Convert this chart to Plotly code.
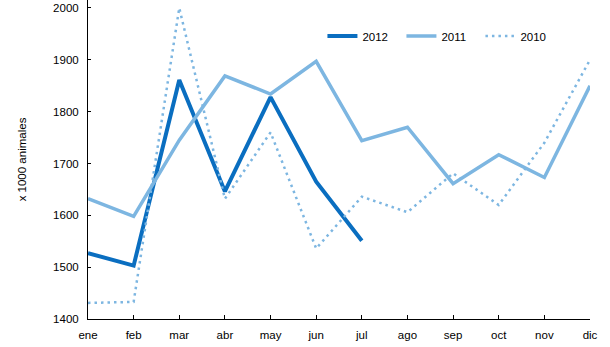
import plotly.graph_objects as go

months = ["ene", "feb", "mar", "abr", "may", "jun", "jul", "ago", "sep", "oct", "nov", "dic"]
y2012 = [1527, 1503, 1861, 1646, 1828, 1665, 1551]
y2011 = [1632, 1598, 1745, 1869, 1834, 1897, 1744, 1770, 1661, 1717, 1673, 1850]
y2010 = [1431, 1433, 2000, 1632, 1760, 1536, 1636, 1606, 1681, 1620, 1740, 1900]
yticks = [1400, 1500, 1600, 1700, 1800, 1900, 2000]

dark = "#0A6EC0"
light = "#7DB6E1"

fig = go.Figure()
fig.add_trace(go.Scatter(x=months[:len(y2012)], y=y2012, name="2012", mode="lines",
                         line=dict(color=dark, width=4)))
fig.add_trace(go.Scatter(x=months, y=y2011, name="2011", mode="lines",
                         line=dict(color=light, width=3.5)))
fig.add_trace(go.Scatter(x=months, y=y2010, name="2010", mode="lines",
                         line=dict(color=light, width=2.5, dash="2.5px,4px")))

fig.update_layout(
    width=610, height=347,
    margin=dict(l=88, r=20, t=0, b=28),
    paper_bgcolor="white", plot_bgcolor="white",
    font=dict(family="Liberation Sans, Arial, sans-serif", size=11, color="black"),
    showlegend=True,
    legend=dict(orientation="h", x=0.467, xanchor="left", y=0.887, yanchor="middle",
                bgcolor="rgba(0,0,0,0)", font=dict(size=11.5), entrywidth=34,
                itemwidth=30),
    xaxis=dict(type="category", categoryorder="array", categoryarray=months,
               range=[0, 11], showgrid=False, zeroline=False,
               showline=True, linecolor="black", linewidth=1,
               ticks="inside", ticklen=4, tickcolor="black",
               ticklabelstandoff=5,
               tickfont=dict(size=11.5)),
    yaxis=dict(range=[1400, 2015.4], tickvals=yticks, showgrid=False, zeroline=False,
               showline=True, linecolor="black", linewidth=1,
               ticks="inside", ticklen=3, tickcolor="black",
               ticklabelstandoff=6, tickfont=dict(size=11.5),
               title=dict(text="x 1000 animales", font=dict(size=11.5), standoff=24)),
)

fig.write_html("out.html")
